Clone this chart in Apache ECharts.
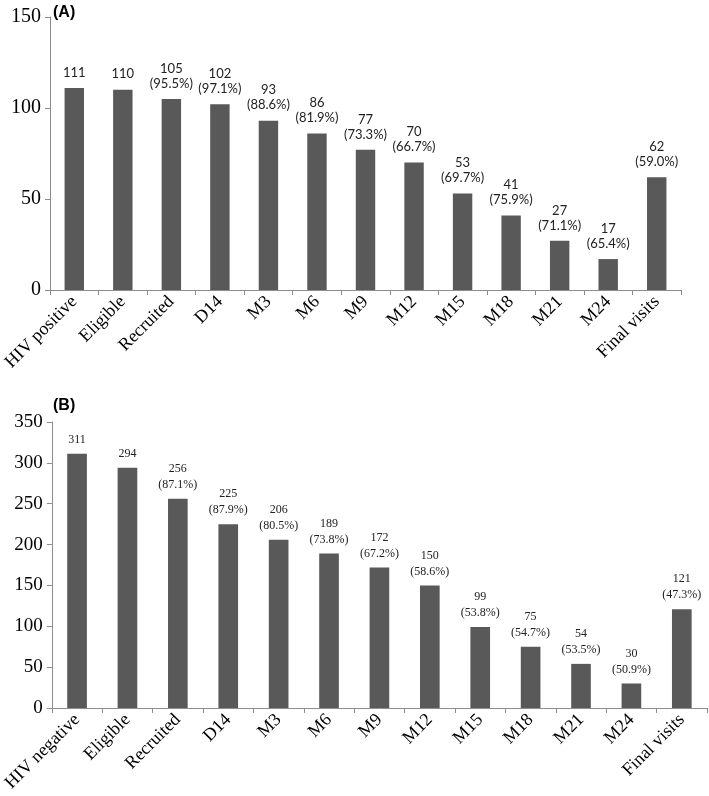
<!DOCTYPE html>
<html>
<head>
<meta charset="utf-8">
<script src="https://cdn.jsdelivr.net/npm/echarts@6/dist/echarts.min.js"></script>
<style>
html,body{margin:0;padding:0;background:#fff;}
#chart{width:709px;height:796px;}
</style>
</head>
<body>
<div id="chart"></div>
<script>
const categoriesA = ['HIV positive','Eligible','Recruited','D14','M3','M6','M9','M12','M15','M18','M21','M24','Final visits'];
const valuesA = [111,110,105,102,93,86,77,70,53,41,27,17,62];
const pctA = ['','','95.5%','97.1%','88.6%','81.9%','73.3%','66.7%','69.7%','75.9%','71.1%','65.4%','59.0%'];
const categoriesB = ['HIV negative','Eligible','Recruited','D14','M3','M6','M9','M12','M15','M18','M21','M24','Final visits'];
const valuesB = [311,294,256,225,206,189,172,150,99,75,54,30,121];
const pctB = ['','','87.1%','87.9%','80.5%','73.8%','67.2%','58.6%','53.8%','54.7%','53.5%','50.9%','47.3%'];
const yTicksA = {min:0, max:150, interval:50};
const yTicksB = {min:0, max:350, interval:50};

const chart = echarts.init(document.getElementById('chart'), null, {renderer:'canvas'});
const axisGray = '#8c8c8c';
const barColor = '#595959';

function xAxis(idx, cats, fs){
  return {
    type:'category', gridIndex:idx, data:cats,
    axisLine:{lineStyle:{color:axisGray, width:1}},
    axisTick:{show:true, length:5, lineStyle:{color:axisGray}},
    axisLabel:{rotate:45, interval:0, margin:9, color:'#000', fontFamily:'Liberation Serif', fontSize:fs}
  };
}
function yAxis(idx, t, fs){
  return {
    type:'value', gridIndex:idx, min:t.min, max:t.max, interval:t.interval,
    axisLine:{show:true, lineStyle:{color:axisGray, width:1}},
    axisTick:{show:true, length:5, lineStyle:{color:axisGray}},
    splitLine:{show:false},
    axisLabel:{color:'#000', fontFamily:'Liberation Serif', fontSize:fs, margin:9}
  };
}
function mkData(vals, pcts){
  return vals.map((v,i)=>({value:v, pct:pcts[i]}));
}

chart.setOption({
  animation:false,
  title:[
    {text:'(A)', left:53, top:5, padding:0, textStyle:{fontFamily:'Liberation Sans', fontWeight:'bold', fontSize:16, color:'#000'}},
    {text:'(B)', left:53, top:398, padding:0, textStyle:{fontFamily:'Liberation Sans', fontWeight:'bold', fontSize:16, color:'#000'}}
  ],
  grid:[
    {left:42, right:28, top:17, height:273},
    {left:43, right:2, top:422, height:286}
  ],
  xAxis:[xAxis(0, categoriesA, 18), xAxis(1, categoriesB, 18)],
  yAxis:[yAxis(0, yTicksA, 20), yAxis(1, yTicksB, 19)],
  series:[
    {type:'bar', xAxisIndex:0, yAxisIndex:0, data:mkData(valuesA,pctA), barWidth:'40%',
     itemStyle:{color:barColor},
     label:{show:true, position:'top', distance:8, color:'#222', fontFamily:'Lato', fontSize:13, lineHeight:15,
       formatter:p=>p.data.pct ? p.value+'\n('+p.data.pct+')' : ''+p.value}},
    {type:'bar', xAxisIndex:1, yAxisIndex:1, data:mkData(valuesB,pctB), barWidth:'39%',
     itemStyle:{color:barColor},
     label:{show:true, position:'top', distance:6, color:'#222', fontFamily:'Liberation Serif', fontSize:12, lineHeight:16,
       formatter:p=>p.data.pct ? p.value+'\n('+p.data.pct+')' : ''+p.value}}
  ]
});
</script>
</body>
</html>
